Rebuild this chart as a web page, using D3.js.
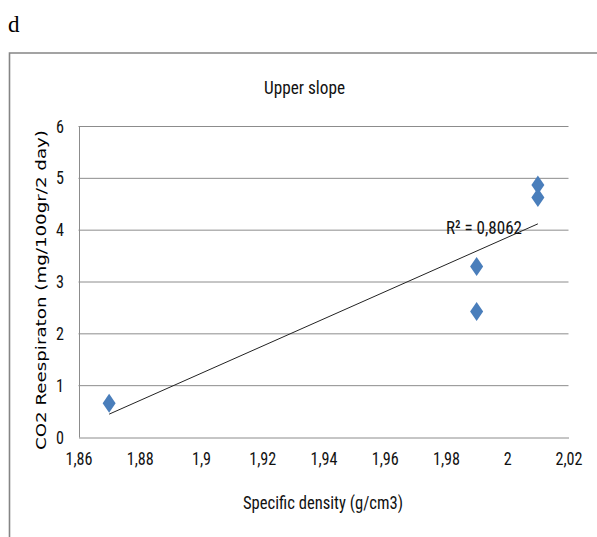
<!DOCTYPE html>
<html><head><meta charset="utf-8">
<script src="https://cdn.jsdelivr.net/npm/d3@7"></script>
<style>
body{margin:0;background:#fff;}
svg{display:block;}
.cal{font-family:"Liberation Sans Narrow","Arial Narrow","Roboto Condensed","Liberation Sans",Arial,sans-serif;}
</style></head>
<body>
<svg id="c" width="597" height="537"></svg>
<script>
const density = [1.87, 1.99, 1.99, 2.01, 2.01];
const respiration = [0.65, 3.29, 2.42, 4.86, 4.62];
const xTicks = [1.86, 1.88, 1.9, 1.92, 1.94, 1.96, 1.98, 2, 2.02];
const yTicks = [0, 1, 2, 3, 4, 5, 6];
const chartTitle = "Upper slope";
const xTitle = "Specific density (g/cm3)";
const yTitle = "CO2 Reespiraton (mg/100gr/2 day)";
const r2Label = "R² = 0,8062";
const panelLabel = "d";

const svg = d3.select("#c");
const x = d3.scaleLinear().domain([1.86, 2.02]).range([78.5, 568.5]);
const y = d3.scaleLinear().domain([0, 6]).range([437, 126]);
const fmt = d => String(+d.toFixed(2)).replace(".", ",");

function squeeze(sel, k) {
  sel.each(function () {
    const w = this.getComputedTextLength();
    d3.select(this).attr("textLength", w * k).attr("lengthAdjust", "spacingAndGlyphs");
  });
}

// panel label
svg.append("text").attr("x", 8).attr("y", 32)
  .attr("font-family", "Liberation Serif, Times New Roman, serif")
  .attr("font-size", 23).attr("fill", "#000").text(panelLabel);

// chart frame
svg.append("path").attr("d", "M9.5,537 V53 H597")
  .attr("fill", "none").attr("stroke", "#858585").attr("stroke-width", 1.6);

// gridlines
svg.append("g").selectAll("line").data(yTicks.filter(d => d > 0)).join("line")
  .attr("x1", x.range()[0]).attr("x2", x.range()[1])
  .attr("y1", d => y(d) + 0.5).attr("y2", d => y(d) + 0.5)
  .attr("stroke", "#8c8c8c").attr("stroke-width", 1);

// axes
const xAxis = svg.append("g").attr("transform", `translate(0,${y(0) + 0.5})`)
  .call(d3.axisBottom(x).tickValues(xTicks).tickSize(0).tickPadding(14).tickFormat(fmt));
xAxis.select(".domain").attr("stroke", "#8c8c8c");
xAxis.selectAll("text").attr("class", "cal").style("font-size", "19px").attr("fill", "#111").call(squeeze, 0.85);

const yAxis = svg.append("g").attr("transform", `translate(${x.range()[0] + 0.5},0)`)
  .call(d3.axisLeft(y).tickValues(yTicks).tickSize(0).tickPadding(15).tickFormat(d3.format("d")));
yAxis.select(".domain").attr("stroke", "#8c8c8c");
yAxis.selectAll("text").attr("class", "cal").style("font-size", "19px").attr("fill", "#111").call(squeeze, 0.85);

// trendline (least squares)
const n = density.length;
const mx = d3.mean(density), my = d3.mean(respiration);
let sxy = 0, sxx = 0;
for (let i = 0; i < n; i++) { sxy += (density[i]-mx)*(respiration[i]-my); sxx += (density[i]-mx)**2; }
const slope = sxy / sxx, icpt = my - slope * mx;
const [x0, x1] = d3.extent(density);
svg.append("line")
  .attr("x1", x(x0)).attr("y1", y(icpt + slope * x0))
  .attr("x2", x(x1)).attr("y2", y(icpt + slope * x1))
  .attr("stroke", "#222").attr("stroke-width", 1);

// points
svg.append("g").selectAll("path").data(density.map((d, i) => [d, respiration[i]])).join("path")
  .attr("d", d => `M${x(d[0])},${y(d[1]) - 9.5} L${x(d[0]) + 6.5},${y(d[1])} L${x(d[0])},${y(d[1]) + 9.5} L${x(d[0]) - 6.5},${y(d[1])} Z`)
  .attr("fill", "#4a7ebb");

// R² label
svg.append("text").attr("class", "cal").attr("x", 484).attr("y", 234)
  .attr("text-anchor", "middle").style("font-size", "19px").attr("fill", "#111")
  .attr("textLength", 76).attr("lengthAdjust", "spacingAndGlyphs").text(r2Label);

// titles
svg.append("text").attr("class", "cal").attr("x", 304.5).attr("y", 94)
  .attr("text-anchor", "middle").style("font-size", "18px").attr("fill", "#111")
  .attr("textLength", 81).attr("lengthAdjust", "spacingAndGlyphs").text(chartTitle);
svg.append("text").attr("class", "cal").attr("x", 323).attr("y", 509)
  .attr("text-anchor", "middle").style("font-size", "19px").attr("fill", "#111")
  .attr("textLength", 160).attr("lengthAdjust", "spacingAndGlyphs").text(xTitle);
svg.append("text").attr("transform", "translate(46,290) rotate(-90)")
  .attr("text-anchor", "middle").attr("font-family", "DejaVu Sans, Verdana, sans-serif")
  .attr("font-size", 14).attr("fill", "#000")
  .attr("textLength", 320).attr("lengthAdjust", "spacingAndGlyphs").text(yTitle);
</script>
</body></html>
